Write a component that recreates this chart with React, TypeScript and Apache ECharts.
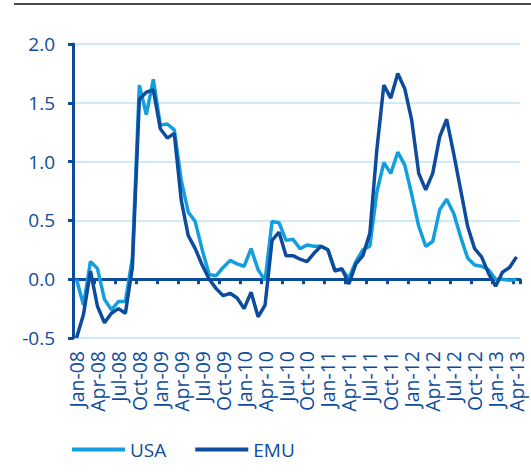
import React, { useEffect, useRef } from "react";
import * as echarts from "echarts";

const categories = [
  "Jan-08","Feb-08","Mar-08","Apr-08","May-08","Jun-08","Jul-08","Aug-08","Sep-08","Oct-08","Nov-08","Dec-08",
  "Jan-09","Feb-09","Mar-09","Apr-09","May-09","Jun-09","Jul-09","Aug-09","Sep-09","Oct-09","Nov-09","Dec-09",
  "Jan-10","Feb-10","Mar-10","Apr-10","May-10","Jun-10","Jul-10","Aug-10","Sep-10","Oct-10","Nov-10","Dec-10",
  "Jan-11","Feb-11","Mar-11","Apr-11","May-11","Jun-11","Jul-11","Aug-11","Sep-11","Oct-11","Nov-11","Dec-11",
  "Jan-12","Feb-12","Mar-12","Apr-12","May-12","Jun-12","Jul-12","Aug-12","Sep-12","Oct-12","Nov-12","Dec-12",
  "Jan-13","Feb-13","Mar-13","Apr-13",
];

const usa = [
  0.0, -0.22, 0.15, 0.09, -0.17, -0.26, -0.19, -0.19, 0.18, 1.65, 1.4, 1.7,
  1.31, 1.32, 1.27, 0.84, 0.57, 0.49, 0.25, 0.04, 0.03, 0.1, 0.16, 0.13,
  0.11, 0.26, 0.08, -0.01, 0.49, 0.48, 0.33, 0.34, 0.26, 0.29, 0.28, 0.28,
  0.25, 0.08, 0.08, 0.01, 0.15, 0.25, 0.28, 0.74, 0.99, 0.9, 1.08, 0.97,
  0.72, 0.45, 0.28, 0.32, 0.59, 0.68, 0.56, 0.36, 0.18, 0.12, 0.11, 0.08,
  0.0, 0.0, -0.01, 0.0,
];

const emu = [
  -0.5, -0.3, 0.07, -0.23, -0.37, -0.29, -0.25, -0.29, 0.1, 1.53, 1.59, 1.61,
  1.28, 1.2, 1.24, 0.67, 0.37, 0.26, 0.12, 0.0, -0.08, -0.14, -0.12, -0.16,
  -0.25, -0.11, -0.32, -0.22, 0.33, 0.4, 0.2, 0.2, 0.17, 0.15, 0.22, 0.28,
  0.25, 0.07, 0.09, -0.04, 0.13, 0.2, 0.39, 1.1, 1.65, 1.54, 1.75, 1.62,
  1.35, 0.9, 0.76, 0.9, 1.21, 1.36, 1.07, 0.76, 0.45, 0.26, 0.19, 0.05,
  -0.06, 0.06, 0.1, 0.19,
];

const seriesNames = ["USA", "EMU"];

const DARK = "#0d4c9c";
const LIGHT = "#139fdd";
const GRID = "#bfe5f6";
const FONT = "Open Sans";

export default function App() {
  const ref = useRef<HTMLDivElement>(null);

  useEffect(() => {
    if (!ref.current) return;
    const chart = echarts.init(ref.current, null, { renderer: "svg" });
    chart.setOption({
      animation: false,
      backgroundColor: "#ffffff",
      textStyle: { fontFamily: FONT },
      grid: { left: 73, right: 11, top: 44, bottom: 136 },
      legend: {
        left: 72,
        top: 440,
        padding: 0,
        icon: "rect",
        itemWidth: 53,
        itemHeight: 4,
        itemGap: 29,
        textStyle: { fontSize: 19, color: DARK, fontFamily: FONT, padding: [0, 0, 0, 0] },
        data: seriesNames,
      },
      graphic: [
        {
          type: "line",
          shape: { x1: 14, y1: 4, x2: 531, y2: 4 },
          style: { stroke: "#4a4a4a", lineWidth: 2 },
        },
      ],
      xAxis: [
        {
          type: "category",
          data: categories,
          boundaryGap: true,
          position: "bottom",
          axisLine: { show: false, onZero: false },
          axisTick: { show: false },
          axisLabel: {
            interval: 2,
            rotate: 90,
            margin: 13,
            fontSize: 19.5,
            color: DARK,
            fontFamily: FONT,
          },
          splitLine: { show: false },
        },
        {
          type: "category",
          data: categories,
          boundaryGap: true,
          position: "bottom",
          axisLine: { show: true, onZero: true, lineStyle: { color: DARK, width: 3 } },
          axisTick: { show: true, interval: 2, length: 5, lineStyle: { color: DARK, width: 3 } },
          axisLabel: { show: false },
          splitLine: { show: false },
        },
      ],
      yAxis: {
        type: "value",
        min: -0.5,
        max: 2.0,
        interval: 0.5,
        axisLine: { show: true, lineStyle: { color: DARK, width: 3 } },
        axisTick: { show: true, length: 5, lineStyle: { color: DARK, width: 3 } },
        axisLabel: {
          margin: 18,
          fontSize: 19,
          color: DARK,
          fontFamily: FONT,
          formatter: (v: number) => v.toFixed(1),
        },
        splitLine: { show: true, lineStyle: { color: GRID, width: 1.5 } },
      },
      series: [
        {
          name: seriesNames[0],
          type: "line",
          data: usa,
          xAxisIndex: 0,
          showSymbol: false,
          symbol: "none",
          lineStyle: { color: LIGHT, width: 3.5 },
          itemStyle: { color: LIGHT },
          z: 3,
        },
        {
          name: seriesNames[1],
          type: "line",
          data: emu,
          xAxisIndex: 0,
          showSymbol: false,
          symbol: "none",
          lineStyle: { color: DARK, width: 3.5 },
          itemStyle: { color: DARK },
          z: 4,
        },
      ],
    });
    return () => chart.dispose();
  }, []);

  return (
    <div
      ref={ref}
      style={{ position: "fixed", left: 0, top: 0, width: 531, height: 474 }}
    />
  );
}
